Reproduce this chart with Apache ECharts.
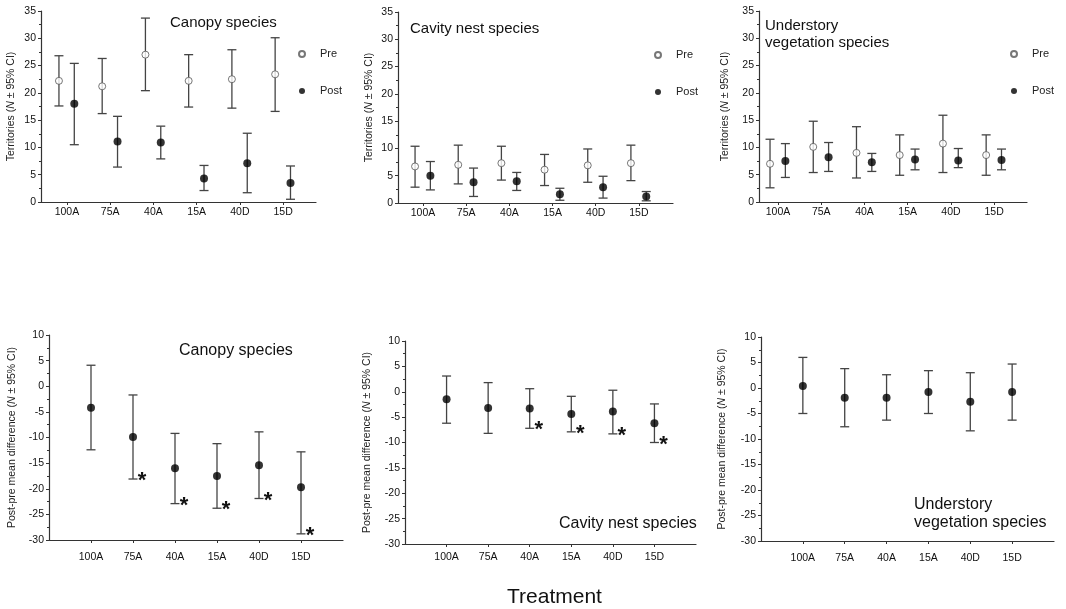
<!doctype html>
<html>
<head>
    <meta charset="utf-8">
    <title>Territories</title>
    <script src="https://cdn.jsdelivr.net/npm/echarts@6/dist/echarts.min.js"></script>
    <style>
        html, body {margin: 0; padding: 0; background: #fff;}
        #chart {width: 1066px; height: 609px;}
    </style>
</head>
<body>
<div id="chart"></div>
<script>
    // treatments
    var categories = ['100A', '75A', '40A', '15A', '40D', '15D'];

    // territories, each row: [mean, lower CI, upper CI]
    var canopyPre  = [[22.2, 17.6, 26.8], [21.2, 16.2, 26.3], [27.0, 20.4, 33.7], [22.2, 17.4, 27.0], [22.5, 17.2, 27.9], [23.4, 16.6, 30.1]];
    var canopyPost = [[18.0, 10.5, 25.4], [11.1, 6.4, 15.7], [10.9, 7.9, 13.9], [4.3, 2.1, 6.7], [7.1, 1.7, 12.6], [3.5, 0.5, 6.6]];
    var cavityPre  = [[6.7, 2.9, 10.4], [7.0, 3.5, 10.6], [7.3, 4.2, 10.4], [6.1, 3.2, 8.9], [6.9, 3.8, 9.9], [7.3, 4.1, 10.6]];
    var cavityPost = [[5.0, 2.4, 7.6], [3.8, 1.2, 6.4], [4.0, 2.3, 5.6], [1.6, 0.5, 2.7], [2.9, 0.9, 4.9], [1.2, 0.4, 2.1]];
    var underPre   = [[7.0, 2.6, 11.5], [10.1, 5.4, 14.8], [9.0, 4.4, 13.8], [8.6, 4.9, 12.3], [10.7, 5.4, 15.9], [8.6, 4.9, 12.3]];
    var underPost  = [[7.5, 4.5, 10.7], [8.2, 5.6, 10.9], [7.3, 5.6, 8.9], [7.8, 5.9, 9.7], [7.6, 6.3, 9.8], [7.7, 5.9, 9.7]];

    // post - pre differences
    var canopyDiff = [[-4.2, -12.4, 4.1], [-9.9, -18.1, -1.7], [-16.0, -22.9, -9.2], [-17.5, -23.8, -11.2], [-15.4, -21.9, -8.9], [-19.7, -28.8, -12.8]];
    var cavityDiff = [[-1.5, -6.2, 3.1], [-3.2, -8.2, 1.8], [-3.3, -7.2, 0.6], [-4.4, -7.9, -0.9], [-3.9, -8.3, 0.3], [-6.2, -10.0, -2.4]];
    var underDiff  = [[0.4, -5.0, 6.0], [-1.9, -7.6, 3.8], [-1.9, -6.3, 2.6], [-0.8, -5.0, 3.4], [-2.7, -8.4, 3.0], [-0.8, -6.3, 4.7]];

    // significant differences (asterisk)
    var canopySig = [0, 1, 1, 1, 1, 1];
    var cavitySig = [0, 0, 1, 1, 1, 1];
    var underSig  = [0, 0, 0, 0, 0, 0];

    var topTicks = [0, 5, 10, 15, 20, 25, 30, 35];
    var bottomTicks = [-30, -25, -20, -15, -10, -5, 0, 5, 10];

    var FONT = 'Liberation Sans, Arial, sans-serif';
    var BAR = '#444';
    var positions = [1, 2, 3, 4, 5, 6];

    var myChart = echarts.init(document.getElementById('chart'));

    function barData(rows, shift, sig) {
        return rows.map(function (r, i) {
            return [positions[i] + shift, r[1], r[2], sig ? sig[i] : 0];
        });
    }
    function pointData(rows, shift) {
        return rows.map(function (r, i) {
            return [positions[i] + shift, r[0]];
        });
    }

    function renderBar(params, api) {
        var x = api.value(0);
        var lo = api.coord([x, api.value(1)]);
        var hi = api.coord([x, api.value(2)]);
        var st = {stroke: BAR, lineWidth: 1.3};
        var kids = [
            {type: 'line', shape: {x1: lo[0], y1: lo[1], x2: hi[0], y2: hi[1]}, style: st},
            {type: 'line', shape: {x1: lo[0] - 4.5, y1: lo[1], x2: lo[0] + 4.5, y2: lo[1]}, style: st},
            {type: 'line', shape: {x1: hi[0] - 4.5, y1: hi[1], x2: hi[0] + 4.5, y2: hi[1]}, style: st}
        ];
        if (api.value(3)) {
            kids.push({type: 'text', style: {
                text: '*', x: lo[0] + 9, y: lo[1] + 2,
                align: 'center', verticalAlign: 'middle',
                font: 'bold 22px ' + FONT, fill: '#111'
            }});
        }
        return {type: 'group', children: kids};
    }

    function xAx(idx, min, max, margin) {
        return {
            type: 'value', gridIndex: idx, min: min, max: max,
            axisLine: {show: true, onZero: false, lineStyle: {color: '#333', width: 1.2}},
            axisTick: {show: true, length: 3, customValues: positions, lineStyle: {color: '#333'}},
            axisLabel: {
                customValues: positions, margin: margin, fontSize: 10.5, color: '#111', fontFamily: FONT,
                formatter: function (v) { return categories[Math.round(v) - 1]; }
            },
            splitLine: {show: false}
        };
    }

    function yAx(idx, ticks, name, gap) {
        return {
            type: 'value', gridIndex: idx,
            min: ticks[0], max: ticks[ticks.length - 1], interval: 5,
            axisLine: {show: true, onZero: false, lineStyle: {color: '#333', width: 1.2}},
            axisTick: {show: true, length: 3, lineStyle: {color: '#333'}},
            minorTick: {show: true, splitNumber: 2, length: 2, lineStyle: {color: '#333'}},
            axisLabel: {fontSize: 10.5, color: '#111', margin: 5, fontFamily: FONT},
            splitLine: {show: false},
            name: name, nameLocation: 'middle', nameGap: gap,
            nameTextStyle: {
                fontSize: 10.5, color: '#222', fontFamily: FONT,
                rich: {i: {fontStyle: 'italic', fontSize: 10.5, color: '#222', fontFamily: FONT}}
            }
        };
    }

    var terrName = 'Territories ({i|N} ± 95% CI)';
    var diffName = 'Post-pre mean difference ({i|N} ± 95% CI)';

    var series = [];
    function addPanel(idx, pre, post, preSig) {
        if (post) {
            series.push({type: 'custom', xAxisIndex: idx, yAxisIndex: idx, renderItem: renderBar,
                encode: {x: 0, y: [1, 2]}, data: barData(pre, -0.185), z: 2, silent: true});
            series.push({type: 'custom', xAxisIndex: idx, yAxisIndex: idx, renderItem: renderBar,
                encode: {x: 0, y: [1, 2]}, data: barData(post, 0.17), z: 2, silent: true});
            series.push({name: 'Pre', type: 'scatter', xAxisIndex: idx, yAxisIndex: idx, symbolSize: 7,
                itemStyle: {color: '#fff', borderColor: '#555', borderWidth: 1}, data: pointData(pre, -0.185), z: 3});
            series.push({name: 'Post', type: 'scatter', xAxisIndex: idx, yAxisIndex: idx, symbolSize: 8,
                itemStyle: {color: '#000'}, data: pointData(post, 0.17), z: 3});
        } else {
            series.push({type: 'custom', xAxisIndex: idx, yAxisIndex: idx, renderItem: renderBar,
                encode: {x: 0, y: [1, 2]}, data: barData(pre, 0, preSig), z: 2, silent: true});
            series.push({type: 'scatter', xAxisIndex: idx, yAxisIndex: idx, symbolSize: 8,
                itemStyle: {color: '#000'}, data: pointData(pre, 0), z: 3});
        }
    }
    addPanel(0, canopyPre, canopyPost);
    addPanel(1, cavityPre, cavityPost);
    addPanel(2, underPre, underPost);
    addPanel(3, canopyDiff, null, canopySig);
    addPanel(4, cavityDiff, null, cavitySig);
    addPanel(5, underDiff, null, underSig);

    function legendAt(left, top) {
        return {
            left: left, top: top, orient: 'vertical', itemGap: 23,
            itemWidth: 26, itemHeight: 6, icon: 'circle', selectedMode: false,
            data: ['Pre', 'Post'],
            textStyle: {fontSize: 11, lineHeight: 14, color: '#222', fontFamily: FONT}
        };
    }

    function titleAt(text, left, top, size) {
        return {text: text, left: left, top: top, padding: 0,
            textStyle: {fontSize: size, lineHeight: size + 2, fontWeight: 'normal', color: '#111', fontFamily: FONT}};
    }

    option = {
        animation: false,
        textStyle: {fontFamily: FONT},
        title: [
            titleAt('Canopy species', 170, 14, 15),
            titleAt('Cavity nest species', 410, 20, 15),
            titleAt('Understory\nvegetation species', 765, 17, 15),
            titleAt('Canopy species', 179, 342, 16),
            titleAt('Cavity nest species', 559, 515, 16),
            titleAt('Understory\nvegetation species', 914, 496, 16),
            titleAt('Treatment', 507, 586, 21)
        ],
        legend: [legendAt(293, 42), legendAt(649, 43), legendAt(1005, 42)],
        grid: [
            {left: 41, top: 11, width: 275, height: 191},
            {left: 398, top: 12, width: 275, height: 191},
            {left: 759, top: 11, width: 268, height: 191},
            {left: 49, top: 335, width: 294, height: 205},
            {left: 405, top: 341, width: 291, height: 203},
            {left: 761, top: 337, width: 293, height: 204}
        ],
        xAxis: [
            xAx(0, 0.4, 6.76, 5),
            xAx(1, 0.42, 6.79, 5),
            xAx(2, 0.56, 6.76, 5),
            xAx(3, 0, 7, 12),
            xAx(4, 0, 7, 8),
            xAx(5, 0, 7, 12)
        ],
        yAxis: [
            yAx(0, topTicks, terrName, 24),
            yAx(1, topTicks, terrName, 23),
            yAx(2, topTicks, terrName, 28),
            yAx(3, bottomTicks, diffName, 31),
            yAx(4, bottomTicks, diffName, 32),
            yAx(5, bottomTicks, diffName, 33)
        ],
        series: series
    };
    myChart.setOption(option);
</script>
</body>
</html>
